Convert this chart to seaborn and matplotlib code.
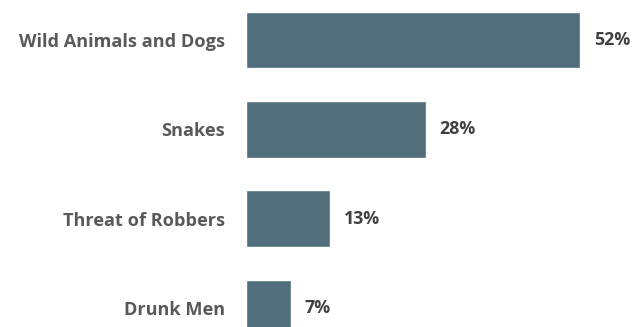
import matplotlib
matplotlib.use("Agg")
import matplotlib.pyplot as plt
import seaborn as sns
import pandas as pd

categories = ["Wild Animals and Dogs", "Snakes", "Threat of Robbers", "Drunk Men"]
values = [52, 28, 13, 7]
value_labels = ["52%", "28%", "13%", "7%"]

sns.set_style("white")
plt.rcParams["font.family"] = ["Open Sans", "DejaVu Sans"]

df = pd.DataFrame({"cat": categories, "val": values})

fig = plt.figure(figsize=(6.34, 3.27), dpi=100)
ax = fig.add_axes([246/634, 0, 388/634, 1])
sns.barplot(data=df, y="cat", x="val", orient="h", color="#506e7c",
            saturation=1, width=0.633, ax=ax)
ax.set_xlim(0, 60.4)
ax.set_ylim(3.214, -0.448)
for s in ax.spines.values():
    s.set_visible(False)
ax.set_xticks([])
ax.set_xlabel("")
ax.set_ylabel("")
ax.tick_params(axis="y", length=0, pad=15)
for t in ax.get_yticklabels():
    t.set_fontweight("bold")
    t.set_color("#595959")
    t.set_fontsize(13.1)
for i, (v, lab) in enumerate(zip(values, value_labels)):
    ax.annotate(lab, xy=(v, i), xytext=(10, 0), textcoords="offset points",
                va="center", ha="left", fontsize=12.8, fontweight="bold",
                color="#404040")
fig.savefig("out.png", dpi=100)
